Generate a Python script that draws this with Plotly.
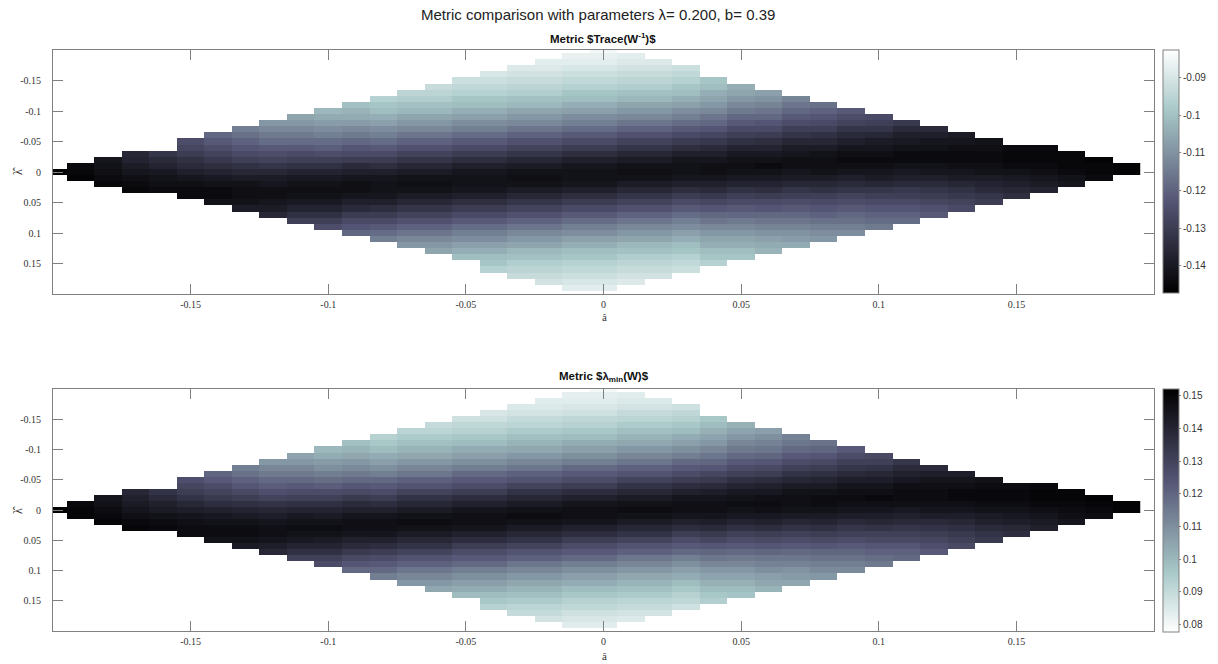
import plotly.graph_objects as go

# ---------------- data ----------------
# column centres (a-hat) and row centres (lambda-hat) of the grid
a_hat = [-0.20, -0.19, -0.18, -0.17, -0.16, -0.15, -0.14, -0.13, -0.12, -0.11,
         -0.10, -0.09, -0.08, -0.07, -0.06, -0.05, -0.04, -0.03, -0.02, -0.01,
         0.00, 0.01, 0.02, 0.03, 0.04, 0.05, 0.06, 0.07, 0.08, 0.09,
         0.10, 0.11, 0.12, 0.13, 0.14, 0.15, 0.16, 0.17, 0.18, 0.19]
lam_hat = [-0.20, -0.19, -0.18, -0.17, -0.16, -0.15, -0.14, -0.13, -0.12, -0.11,
           -0.10, -0.09, -0.08, -0.07, -0.06, -0.05, -0.04, -0.03, -0.02, -0.01,
           0.00, 0.01, 0.02, 0.03, 0.04, 0.05, 0.06, 0.07, 0.08, 0.09,
           0.10, 0.11, 0.12, 0.13, 0.14, 0.15, 0.16, 0.17, 0.18, 0.19, 0.20]

# first (top-most) lambda row that holds data, for every column
col_first_lam = [0.00, -0.01, -0.02, -0.03, -0.03, -0.05, -0.06, -0.07, -0.08, -0.09,
                 -0.10, -0.11, -0.12, -0.13, -0.14, -0.15, -0.16, -0.17, -0.18, -0.19,
                 -0.20, -0.19, -0.18, -0.17, -0.15, -0.14, -0.13, -0.12, -0.11, -0.10,
                 -0.09, -0.08, -0.07, -0.06, -0.05, -0.04, -0.04, -0.03, -0.02, -0.01]

# Metric Trace(W^-1), values x 1e-3, per column from the top row downwards
trace_cols = [
    [-147],
    [-144, -145, -146],
    [-141, -142, -143, -144, -145],
    [-136, -137, -139, -141, -143, -144, -145],
    [-132, -135, -137, -140, -142, -143, -144],
    [-125, -127, -130, -133, -135, -138, -141, -143, -144, -144],
    [-119, -122, -125, -128, -131, -134, -137, -140, -142, -144, -144, -142],
    [-114, -117, -120, -123, -126, -129, -133, -136, -139, -142, -143, -143, -142, -139],
    [-109, -112, -115, -118, -122, -125, -128, -132, -136, -139, -141, -143, -143, -141, -139, -136],
    [-106, -109, -112, -115, -118, -122, -126, -129, -133, -137, -140, -142, -143, -142, -140, -137, -133, -129],
    [-102, -105, -108, -111, -114, -118, -121, -125, -129, -133, -137, -140, -142, -143, -142, -140, -137, -133, -129, -125],
    [-100, -103, -105, -108, -112, -115, -119, -123, -126, -130, -135, -138, -141, -143, -143, -141, -138, -135, -130, -126, -123, -119],
    [-96, -99, -101, -104, -107, -111, -114, -118, -122, -126, -130, -134, -138, -141, -142, -142, -141, -138, -134, -130, -126, -122, -118, -114],
    [-95, -97, -100, -102, -106, -109, -112, -116, -120, -124, -128, -132, -136, -139, -142, -143, -142, -139, -136, -132, -128, -124, -120, -116, -112, -109],
    [-93, -95, -97, -100, -102, -106, -109, -112, -116, -120, -124, -128, -132, -136, -139, -142, -143, -142, -139, -136, -132, -128, -124, -120, -116, -112, -109, -106],
    [-92, -94, -96, -99, -101, -104, -107, -111, -114, -118, -122, -126, -130, -134, -138, -141, -142, -142, -141, -138, -134, -130, -126, -122, -118, -114, -111, -107, -104, -101],
    [-90, -92, -94, -96, -99, -101, -104, -107, -111, -114, -118, -122, -126, -130, -134, -138, -141, -142, -142, -141, -138, -134, -130, -126, -122, -118, -114, -111, -107, -104, -101, -99, -96],
    [-89, -91, -93, -95, -97, -100, -102, -106, -109, -112, -116, -120, -124, -128, -132, -136, -139, -142, -143, -142, -139, -136, -132, -128, -124, -120, -116, -112, -109, -106, -102, -100, -97, -95, -93],
    [-88, -89, -91, -93, -95, -97, -100, -102, -106, -109, -112, -116, -120, -124, -128, -132, -136, -139, -142, -143, -142, -139, -136, -132, -128, -124, -120, -116, -112, -109, -106, -102, -100, -97, -95, -93, -91],
    [-87, -88, -90, -92, -94, -96, -99, -101, -104, -107, -111, -114, -118, -122, -126, -130, -134, -138, -141, -142, -142, -141, -138, -134, -130, -126, -122, -118, -114, -111, -107, -104, -101, -99, -96, -94, -92, -90, -88],
    [-85, -87, -88, -90, -92, -94, -96, -99, -101, -104, -107, -111, -114, -118, -122, -126, -130, -134, -138, -141, -142, -142, -141, -138, -134, -130, -126, -122, -118, -114, -111, -107, -104, -101, -99, -96, -94, -92, -90, -88],
    [-88, -89, -91, -93, -95, -97, -100, -102, -106, -109, -112, -116, -120, -124, -128, -132, -136, -139, -142, -143, -142, -139, -136, -132, -128, -124, -120, -116, -112, -109, -106, -102, -100, -97, -95, -93, -91, -89],
    [-89, -91, -93, -95, -97, -100, -102, -106, -109, -112, -116, -120, -124, -128, -132, -136, -139, -142, -143, -142, -139, -136, -132, -128, -124, -120, -116, -112, -109, -106, -102, -100, -97, -95, -93, -91],
    [-92, -94, -96, -99, -101, -104, -107, -111, -114, -118, -122, -126, -130, -134, -138, -141, -142, -142, -141, -138, -134, -130, -126, -122, -118, -114, -111, -107, -104, -101, -99, -96, -94, -92],
    [-99, -101, -104, -106, -109, -112, -116, -119, -123, -127, -131, -135, -138, -141, -143, -143, -141, -138, -135, -131, -127, -123, -119, -116, -112, -109, -106, -104, -101, -99, -96],
    [-104, -106, -109, -112, -115, -119, -122, -126, -129, -133, -137, -140, -142, -143, -142, -140, -137, -133, -129, -126, -122, -119, -115, -112, -109, -106, -104, -101, -99],
    [-107, -110, -113, -116, -119, -123, -126, -130, -134, -137, -140, -142, -144, -142, -140, -137, -134, -130, -126, -123, -119, -116, -113, -110, -107, -105, -103],
    [-113, -116, -119, -122, -125, -129, -132, -136, -139, -141, -143, -143, -141, -139, -136, -132, -129, -125, -122, -119, -116, -113, -110, -108, -105],
    [-117, -120, -123, -126, -129, -133, -136, -139, -142, -143, -143, -142, -139, -136, -133, -129, -126, -123, -120, -117, -114, -111, -109],
    [-122, -125, -128, -132, -135, -138, -141, -143, -144, -143, -141, -138, -135, -132, -128, -125, -122, -119, -117, -114, -111],
    [-126, -129, -132, -136, -139, -141, -143, -144, -143, -141, -139, -136, -132, -129, -126, -123, -120, -118, -115],
    [-131, -135, -138, -140, -142, -144, -144, -142, -140, -138, -135, -131, -129, -126, -123, -120, -118],
    [-135, -138, -141, -142, -144, -144, -142, -141, -138, -135, -132, -130, -127, -124, -122],
    [-139, -141, -143, -144, -144, -143, -141, -139, -136, -133, -131, -128, -126],
    [-142, -143, -144, -144, -143, -142, -139, -137, -135, -132, -130],
    [-144, -145, -145, -144, -142, -140, -138, -136, -134],
    [-144, -145, -145, -144, -143, -141, -139, -137],
    [-145, -145, -145, -144, -142, -141],
    [-146, -145, -145, -144],
    [-146, -146],
]

# Metric lambda_min(W), values x 1e-3, per column from the top row downwards
lmin_cols = [
    [152],
    [149, 150, 150],
    [145, 146, 148, 149, 150],
    [139, 141, 143, 145, 147, 149, 150],
    [135, 138, 141, 143, 146, 148, 149],
    [126, 129, 132, 135, 139, 142, 145, 147, 148, 148],
    [120, 123, 127, 130, 133, 137, 141, 144, 146, 148, 148, 146],
    [114, 117, 121, 124, 128, 132, 136, 140, 143, 146, 148, 148, 146, 143],
    [108, 112, 115, 119, 122, 126, 130, 135, 139, 142, 145, 147, 147, 145, 142, 139],
    [105, 108, 112, 115, 119, 123, 127, 131, 136, 140, 144, 146, 148, 146, 144, 140, 136, 131],
    [100, 103, 107, 110, 114, 118, 122, 127, 131, 136, 140, 143, 146, 148, 146, 143, 140, 136, 131, 127],
    [98, 101, 104, 108, 111, 115, 119, 124, 128, 133, 138, 141, 145, 147, 147, 145, 141, 138, 133, 128, 124, 119],
    [93, 96, 99, 103, 106, 110, 114, 119, 123, 127, 132, 137, 141, 145, 147, 147, 145, 141, 137, 132, 127, 123, 119, 114],
    [92, 95, 98, 101, 104, 108, 112, 116, 121, 125, 130, 135, 139, 143, 146, 148, 146, 143, 139, 135, 130, 125, 121, 116, 112, 108],
    [90, 92, 95, 98, 101, 104, 108, 112, 116, 121, 125, 130, 135, 139, 143, 146, 148, 146, 143, 139, 135, 130, 125, 121, 116, 112, 108, 104],
    [88, 91, 93, 96, 99, 103, 106, 110, 114, 119, 123, 127, 132, 137, 141, 145, 147, 147, 145, 141, 137, 132, 127, 123, 119, 114, 110, 106, 103, 99],
    [86, 88, 91, 93, 96, 99, 103, 106, 110, 114, 119, 123, 127, 132, 137, 141, 145, 147, 147, 145, 141, 137, 132, 127, 123, 119, 114, 110, 106, 103, 99, 96, 93],
    [85, 87, 90, 92, 95, 98, 101, 104, 108, 112, 116, 121, 125, 130, 135, 139, 143, 146, 148, 146, 143, 139, 135, 130, 125, 121, 116, 112, 108, 104, 101, 98, 95, 92, 90],
    [84, 85, 87, 90, 92, 95, 98, 101, 104, 108, 112, 116, 121, 125, 130, 135, 139, 143, 146, 148, 146, 143, 139, 135, 130, 125, 121, 116, 112, 108, 104, 101, 98, 95, 92, 90, 87],
    [83, 84, 86, 88, 91, 93, 96, 99, 103, 106, 110, 114, 119, 123, 127, 132, 137, 141, 145, 147, 147, 145, 141, 137, 132, 127, 123, 119, 114, 110, 106, 103, 99, 96, 93, 91, 88, 86, 84],
    [80, 83, 84, 86, 88, 91, 93, 96, 99, 103, 106, 110, 114, 119, 123, 127, 132, 137, 141, 145, 147, 147, 145, 141, 137, 132, 127, 123, 119, 114, 110, 106, 103, 99, 96, 93, 91, 88, 86, 84],
    [84, 85, 87, 90, 92, 95, 98, 101, 104, 108, 112, 116, 121, 125, 130, 135, 139, 143, 146, 148, 146, 143, 139, 135, 130, 125, 121, 116, 112, 108, 104, 101, 98, 95, 92, 90, 87, 85],
    [85, 87, 90, 92, 95, 98, 101, 104, 108, 112, 116, 121, 125, 130, 135, 139, 143, 146, 148, 146, 143, 139, 135, 130, 125, 121, 116, 112, 108, 104, 101, 98, 95, 92, 90, 87],
    [88, 91, 93, 96, 99, 103, 106, 110, 114, 119, 123, 127, 132, 137, 141, 145, 147, 147, 145, 141, 137, 132, 127, 123, 119, 114, 110, 106, 103, 99, 96, 93, 91, 88],
    [96, 99, 102, 105, 108, 112, 116, 120, 124, 129, 133, 138, 142, 145, 147, 147, 145, 142, 138, 133, 129, 124, 120, 116, 112, 108, 105, 102, 99, 96, 94],
    [102, 105, 108, 112, 115, 119, 123, 127, 131, 136, 140, 144, 146, 148, 146, 144, 140, 136, 131, 127, 123, 119, 115, 112, 108, 105, 102, 99, 97],
    [106, 110, 113, 116, 120, 124, 128, 132, 137, 141, 144, 147, 148, 147, 144, 141, 137, 132, 128, 124, 120, 116, 113, 110, 106, 104, 101],
    [113, 116, 119, 123, 127, 131, 135, 139, 143, 146, 147, 147, 146, 143, 139, 135, 131, 127, 123, 119, 116, 113, 109, 107, 104],
    [117, 120, 124, 128, 132, 136, 140, 143, 146, 148, 148, 146, 143, 140, 136, 132, 128, 124, 120, 117, 114, 111, 108],
    [123, 127, 131, 134, 138, 142, 145, 147, 148, 147, 145, 142, 138, 134, 131, 127, 123, 120, 117, 114, 111],
    [128, 131, 135, 139, 142, 145, 147, 149, 147, 145, 142, 139, 135, 131, 128, 124, 121, 118, 115],
    [134, 138, 141, 144, 147, 148, 148, 147, 144, 141, 138, 134, 131, 128, 124, 121, 119],
    [138, 142, 145, 147, 148, 148, 147, 145, 142, 138, 135, 132, 129, 126, 123],
    [142, 145, 147, 149, 149, 147, 145, 142, 139, 136, 133, 131, 128],
    [146, 148, 149, 149, 148, 146, 143, 141, 138, 135, 133],
    [148, 149, 149, 148, 146, 144, 142, 139, 137],
    [149, 150, 150, 149, 147, 145, 143, 141],
    [150, 150, 149, 148, 147, 145],
    [151, 150, 149, 148],
    [151, 151],
]

axis_ticks = [-0.15, -0.10, -0.05, 0.00, 0.05, 0.10, 0.15]
axis_tick_text = ["-0.15", "-0.1", "-0.05", "0", "0.05", "0.1", "0.15"]
trace_cb_ticks = [-0.14, -0.13, -0.12, -0.11, -0.10, -0.09]
trace_cb_text = ["-0.14", "-0.13", "-0.12", "-0.11", "-0.1", "-0.09"]
lmin_cb_ticks = [0.08, 0.09, 0.10, 0.11, 0.12, 0.13, 0.14, 0.15]
lmin_cb_text = ["0.08", "0.09", "0.1", "0.11", "0.12", "0.13", "0.14", "0.15"]
trace_range = [-0.1472, -0.0827]
lmin_range = [0.0777, 0.1521]


def build_grid(cols):
    z = [[None] * len(a_hat) for _ in lam_hat]
    for j, vals in enumerate(cols):
        r0 = int(round((col_first_lam[j] - lam_hat[0]) / 0.01))
        for i, v in enumerate(vals):
            r = r0 + i
            if 0 <= r < len(lam_hat):
                z[r][j] = v / 1000.0
    return z


z_trace = build_grid(trace_cols)
z_lmin = build_grid(lmin_cols)

# MATLAB "bone" colormap
bone = [[0.0, "rgb(0,0,0)"], [0.375, "rgb(84,84,116)"],
        [0.75, "rgb(167,199,199)"], [1.0, "rgb(255,255,255)"]]

W, H = 1218, 664
L, R, T, B = 53, 64, 50, 33
PW, PH = W - L - R, H - T - B


def py(ypix):
    return (H - B - ypix) / PH


def px(xpix):
    return (xpix - L) / PW


AX = "#808080"
TXT = "#333333"
serif = "Liberation Serif"
sans = "Liberation Sans"


def cbar(y_center, ticks, text):
    return dict(x=px(1163), xanchor="left", xpad=0, y=py(y_center), yanchor="middle",
                ypad=0, len=243, lenmode="pixels", thickness=16, thicknessmode="pixels",
                outlinecolor=AX, outlinewidth=1, tickvals=ticks, ticktext=text,
                ticks="outside", ticklen=2, tickcolor=AX,
                tickfont=dict(family=sans, size=10, color=TXT))


fig = go.Figure()
fig.add_trace(go.Heatmap(x=a_hat, y=lam_hat, z=z_trace, xaxis="x", yaxis="y",
                         colorscale=bone, zmin=trace_range[0], zmax=trace_range[1],
                         colorbar=cbar(171.5, trace_cb_ticks, trace_cb_text),
                         hoverongaps=False))
fig.add_trace(go.Heatmap(x=a_hat, y=lam_hat, z=z_lmin, xaxis="x2", yaxis="y2",
                         colorscale=bone, reversescale=True,
                         zmin=lmin_range[0], zmax=lmin_range[1],
                         colorbar=cbar(510.5, lmin_cb_ticks, lmin_cb_text),
                         hoverongaps=False))

xax = dict(range=[-0.2, 0.2], tickvals=axis_ticks, ticktext=axis_tick_text,
           ticks="inside", ticklen=10, tickcolor=AX, showline=True, linecolor=AX,
           linewidth=1, mirror="ticks", showgrid=False, zeroline=False,
           tickfont=dict(family=serif, size=10, color=TXT), ticklabelstandoff=1)
yax = dict(range=[0.2, -0.2], tickvals=axis_ticks, ticktext=axis_tick_text,
           ticks="inside", ticklen=10, tickcolor=AX, showline=True, linecolor=AX,
           linewidth=1, mirror="ticks", showgrid=False, zeroline=False,
           tickfont=dict(family=serif, size=10, color=TXT), ticklabelstandoff=9)

top_dom = [py(294), 1.0]
bot_dom = [0.0, py(389)]

fig.update_layout(
    width=W, height=H, margin=dict(l=L, r=R, t=T, b=B, autoexpand=False),
    paper_bgcolor="white", plot_bgcolor="white", showlegend=False,
    xaxis=dict(xax, domain=[0, 1], anchor="y"),
    yaxis=dict(yax, domain=top_dom, anchor="x"),
    xaxis2=dict(xax, domain=[0, 1], anchor="y2"),
    yaxis2=dict(yax, domain=bot_dom, anchor="x2"),
)

ann = [
    dict(text="Metric comparison with parameters \u03bb= 0.200, b= 0.39",
         x=px(598), y=py(14), font=dict(family=sans, size=15, color="#222222")),
    dict(text="<b>Metric $Trace(W<sup>-1</sup>)$</b>", x=px(603), y=py(38),
         font=dict(family=sans, size=11.5, color="#111111")),
    dict(text="<b>Metric $\u03bb<sub>min</sub>(W)$</b>", x=px(604), y=py(377),
         font=dict(family=sans, size=11.5, color="#111111")),
    dict(text="\u00e2", x=px(604), y=py(317), font=dict(family=serif, size=11, color=TXT)),
    dict(text="\u00e2", x=px(604), y=py(656), font=dict(family=serif, size=11, color=TXT)),
    dict(text="\u03bb\u0302", x=px(18), y=py(171), textangle=-90,
         font=dict(family=serif, size=12, color=TXT)),
    dict(text="\u03bb\u0302", x=px(18), y=py(510), textangle=-90,
         font=dict(family=serif, size=12, color=TXT)),
]
for a in ann:
    a.update(xref="paper", yref="paper", showarrow=False, xanchor="center", yanchor="middle")
fig.update_layout(annotations=ann)

fig.write_html("out.html", config={"displayModeBar": False},
               post_script="document.body.style.margin='0px';")
